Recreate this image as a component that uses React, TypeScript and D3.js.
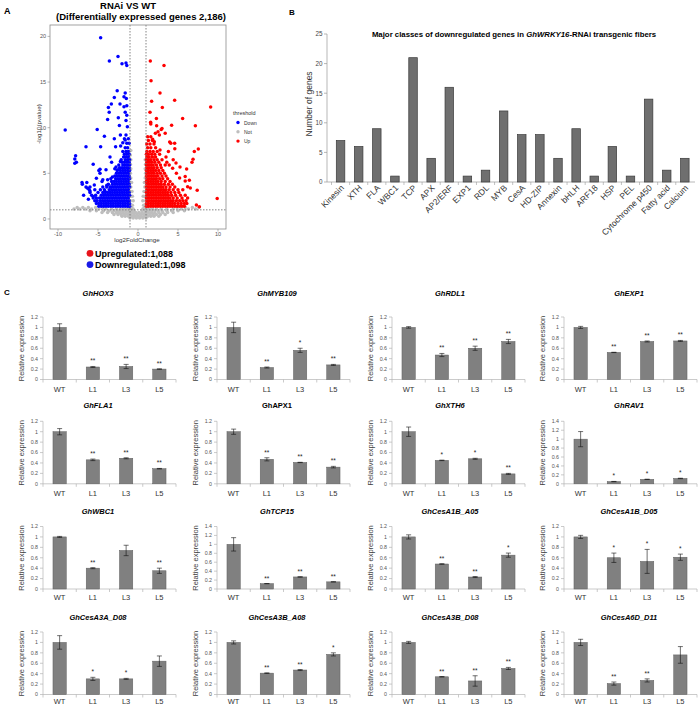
import React from 'react';
import * as d3 from 'd3';

const FONT = 'Liberation Sans, Arial, Helvetica, sans-serif';

// ---------------- Panel A: volcano data (log2FoldChange, -log10 pvalue) ----------------
const downOutliers: [number, number][] = [
  [-4.67, 19.85], [-3.58, 17.3], [-2.5, 17.8], [-2.0, 17.0], [-1.5, 17.1], [-1.4, 16.8], [-2.6, 14.05],
  [-2.96, 13.3], [-1.6, 13.8], [-1.75, 13.4], [-1.46, 13.2], [-2.25, 12.6], [-3.33, 12.6], [-3.7, 12.2],
  [-1.75, 12.3], [-1.4, 12.4], [-3.6, 11.7], [-3.8, 10.9], [-2.46, 11.1], [-2.33, 10.25], [-1.6, 11.7],
  [-1.4, 11.35], [-9.1, 9.75], [-5.1, 9.8], [-4.2, 9.05], [-2.2, 9.2], [-1.5, 9.2], [-1.33, 10.1],
  [-1.5, 10.8], [-2.96, 8.8], [-6.5, 7.9], [-4.67, 7.9], [-2.8, 7.9], [-2.17, 8.0], [-1.9, 8.35],
  [-1.6, 8.65], [-7.8, 6.93], [-7.9, 6.57], [-7.9, 6.1], [-7.7, 6.2], [-5.6, 6.0], [-3.5, 6.8],
  [-3.3, 6.2], [-4.0, 5.4], [-4.9, 5.3], [-4.75, 5.44], [-2.75, 5.7], [-2.5, 5.4], [-2.2, 6.3],
  [-7.0, 4.0], [-6.96, 3.8], [-6.4, 4.0], [-6.5, 3.5], [-6.3, 3.36], [-6.0, 3.5], [-6.0, 3.07],
  [-5.46, 3.72], [-5.4, 3.2], [-4.5, 4.1], [-4.4, 4.3], [-3.8, 4.3], [-3.9, 3.7], [-4.75, 5.0],
  [-5.2, 4.45], [-4.1, 3.0], [-5.6, 2.45], [-6.2, 2.15], [-6.8, 2.6], [-3.2, 4.6], [-2.9, 5.5], [-3.5, 3.5],
];
const upOutliers: [number, number][] = [
  [1.54, 17.3], [3.25, 16.8], [1.63, 15.15], [2.75, 13.8], [1.7, 12.9], [4.58, 13.0], [3.04, 12.2],
  [9.08, 12.27], [1.5, 11.7], [5.58, 11.0], [2.3, 11.0], [1.58, 10.6], [1.6, 10.4], [4.2, 10.26],
  [7.17, 10.2], [2.33, 10.2], [2.9, 9.8], [2.5, 9.56], [2.67, 9.2], [2.17, 9.38], [1.83, 8.73],
  [2.04, 8.47], [3.96, 8.43], [4.58, 8.29], [7.54, 7.67], [7.04, 7.38], [6.88, 6.53], [6.75, 6.2],
  [4.75, 6.13], [6.08, 5.48], [4.33, 5.55], [5.2, 4.49], [5.9, 4.64], [6.42, 4.24], [5.9, 4.16],
  [6.2, 3.54], [6.54, 3.4], [7.4, 3.14], [9.9, 2.23], [7.3, 1.53], [7.67, 1.35], [3.0, 9.9], [3.4, 9.4],
  [4.1, 8.3], [4.6, 7.7], [3.8, 7.4], [2.75, 7.55], [3.5, 6.8], [4.4, 6.5], [5.25, 5.7], [4.8, 5.0],
  [3.9, 5.9], [3.6, 6.2],
];
// dense clouds: [-log10 p, list of log2FC]
const downDenseRows: [number, number[]][] = [
  [1.4, [-4.9, -4.6, -4.3, -4.0, -3.7, -3.4, -3.1, -2.8, -2.5, -2.2, -1.9, -1.6, -1.3, -1.05]],
  [1.7, [-5.2, -4.9, -4.6, -4.3, -4.0, -3.7, -3.4, -3.1, -2.8, -2.5, -2.2, -1.9, -1.6, -1.3, -1.05]],
  [2.0, [-5.4, -5.1, -4.7, -4.4, -4.1, -3.8, -3.5, -3.2, -2.9, -2.6, -2.3, -2.0, -1.7, -1.4, -1.1]],
  [2.3, [-5.6, -5.2, -4.8, -4.5, -4.2, -3.9, -3.6, -3.3, -3.0, -2.7, -2.4, -2.1, -1.8, -1.5, -1.2]],
  [2.6, [-5.8, -5.3, -4.6, -4.3, -4.0, -3.7, -3.4, -3.1, -2.8, -2.5, -2.2, -1.9, -1.6, -1.3, -1.05]],
  [2.9, [-6.0, -5.0, -4.4, -4.1, -3.8, -3.5, -3.2, -2.9, -2.6, -2.3, -2.0, -1.7, -1.4, -1.1]],
  [3.2, [-6.1, -4.7, -4.2, -3.6, -3.3, -3.0, -2.7, -2.4, -2.1, -1.8, -1.5, -1.2]],
  [3.5, [-4.4, -3.9, -3.4, -3.1, -2.8, -2.5, -2.2, -1.9, -1.6, -1.3, -1.05]],
  [3.8, [-3.7, -3.2, -2.9, -2.6, -2.3, -2.0, -1.7, -1.4, -1.1]],
  [4.1, [-3.3, -3.0, -2.7, -2.4, -2.1, -1.8, -1.5, -1.2]],
  [4.4, [-3.4, -2.8, -2.5, -2.2, -1.9, -1.6, -1.3, -1.05]],
  [4.7, [-2.9, -2.6, -2.3, -2.0, -1.7, -1.4, -1.1]],
  [5.0, [-2.7, -2.4, -2.1, -1.8, -1.5, -1.2]],
  [5.3, [-2.6, -2.2, -1.9, -1.6, -1.3, -1.05]],
  [5.6, [-2.3, -2.0, -1.7, -1.4, -1.1]],
  [5.9, [-2.4, -1.9, -1.6, -1.3, -1.05]],
  [6.2, [-2.0, -1.7, -1.4, -1.1]],
  [6.5, [-2.1, -1.6, -1.3, -1.05]],
  [6.8, [-1.8, -1.5, -1.2]],
  [7.1, [-1.7, -1.4, -1.1]],
  [7.4, [-1.9, -1.5, -1.2]],
  [7.8, [-1.6, -1.3]],
  [8.3, [-1.4, -1.1]],
  [8.8, [-1.7, -1.2]],
];
const upDenseRows: [number, number[]][] = [
  [1.4, [1.05, 1.3, 1.6, 1.9, 2.2, 2.5, 2.8, 3.1, 3.4, 3.7, 4.0, 4.3, 4.6, 4.9, 5.2, 5.5, 5.8]],
  [1.7, [1.05, 1.3, 1.6, 1.9, 2.2, 2.5, 2.8, 3.1, 3.4, 3.7, 4.0, 4.3, 4.6, 5.0, 5.4, 5.8, 6.1]],
  [2.0, [1.1, 1.4, 1.7, 2.0, 2.3, 2.6, 2.9, 3.2, 3.5, 3.8, 4.1, 4.4, 4.8, 5.2, 5.6, 6.0]],
  [2.3, [1.05, 1.3, 1.6, 1.9, 2.2, 2.5, 2.8, 3.1, 3.4, 3.7, 4.0, 4.4, 4.9, 5.5, 6.2]],
  [2.6, [1.1, 1.4, 1.7, 2.0, 2.3, 2.6, 2.9, 3.2, 3.5, 3.8, 4.2, 4.7, 5.3, 5.9]],
  [2.9, [1.05, 1.3, 1.6, 1.9, 2.2, 2.5, 2.8, 3.1, 3.4, 3.7, 4.1, 4.6, 5.1]],
  [3.2, [1.1, 1.4, 1.7, 2.0, 2.3, 2.6, 2.9, 3.2, 3.5, 3.9, 4.4, 5.0, 5.6]],
  [3.5, [1.05, 1.3, 1.6, 1.9, 2.2, 2.5, 2.8, 3.1, 3.5, 4.0, 4.6]],
  [3.8, [1.1, 1.4, 1.7, 2.0, 2.3, 2.6, 2.9, 3.3, 3.8, 4.3]],
  [4.1, [1.05, 1.3, 1.6, 1.9, 2.2, 2.5, 2.9, 3.4, 4.0]],
  [4.4, [1.1, 1.4, 1.7, 2.0, 2.3, 2.7, 3.1, 3.7]],
  [4.7, [1.05, 1.3, 1.6, 1.9, 2.2, 2.5, 3.0, 3.5]],
  [5.0, [1.1, 1.4, 1.7, 2.0, 2.4, 2.8, 3.3]],
  [5.3, [1.05, 1.3, 1.6, 1.9, 2.2, 2.6, 3.1]],
  [5.6, [1.1, 1.4, 1.7, 2.0, 2.4, 2.9]],
  [5.9, [1.05, 1.3, 1.6, 1.9, 2.3, 2.8, 3.4]],
  [6.2, [1.1, 1.4, 1.7, 2.1, 2.6]],
  [6.5, [1.05, 1.3, 1.6, 2.0, 2.4, 3.0]],
  [6.8, [1.1, 1.4, 1.8, 2.2]],
  [7.1, [1.05, 1.3, 1.7, 2.1, 2.7]],
  [7.4, [1.1, 1.5, 1.9, 2.4]],
  [7.8, [1.2, 1.6, 2.2]],
  [8.2, [1.1, 1.5, 2.0]],
  [8.6, [1.3, 1.8]],
  [9.0, [1.2, 1.6]],
];
const notDenseRows: [number, number[]][] = [
  [0.1, [-1.0, -0.6, -0.2, 0.2, 0.6, 1.0]],
  [0.3, [-2.0, -1.6, -1.2, -0.8, -0.4, 0, 0.4, 0.8, 1.2, 1.6, 2.0, 2.6]],
  [0.5, [-3.0, -2.5, -2.1, -1.7, -1.3, -0.9, -0.5, -0.1, 0.3, 0.7, 1.1, 1.5, 1.9, 2.3, 2.8, 3.4]],
  [0.7, [-4.5, -3.8, -3.2, -2.7, -2.3, -1.9, -1.5, -1.1, -0.7, -0.3, 0.1, 0.5, 0.9, 1.3, 1.7, 2.1, 2.6, 3.1, 3.7, 4.4]],
  [0.9, [-6.0, -5.2, -4.3, -3.6, -3.0, -2.5, -2.1, -1.7, -1.3, -0.9, -0.5, 0.5, 0.9, 1.3, 1.7, 2.1, 2.5, 3.0, 3.6, 4.2, 5.0, 5.8]],
  [1.1, [-8.0, -7.3, -6.6, -5.8, -4.9, -4.0, -3.3, -2.7, -2.2, -1.8, -1.4, -0.9, -0.6, 0.6, 0.9, 1.4, 1.8, 2.3, 2.9, 3.6, 4.4, 5.4, 6.3, 7.2]],
  [1.25, [-7.6, -6.9, -6.2, -5.3, -4.4, -1.2, -0.8, 0.8, 1.2, 4.9, 5.9, 6.8, 7.6]],
  [1.5, [-0.95, -0.7, 0.7, 0.95]],
  [2.0, [-0.95, -0.6, 0.6, 0.95]],
  [2.5, [-0.9, -0.7, 0.65, 0.9]],
  [3.0, [-0.95, -0.75, 0.75, 0.95]],
  [3.5, [-0.9, 0.85]],
  [4.0, [-0.95, -0.8, 0.8, 0.95]],
  [4.5, [-0.9, 0.9]],
  [5.0, [-0.95, 0.95]],
  [5.5, [-0.9, 0.9]],
  [6.0, [-0.95, 0.95]],
  [6.5, [-0.9, 0.9]],
  [7.0, [-0.95]],
  [7.5, [-0.9]],
];
const volcanoXTicks = [-10, -5, 0, 5, 10];
const volcanoYTicks = [0, 5, 10, 15, 20];
const fcCut = 1;
const pCut = 1;
const legendLevels = ['Down', 'Not', 'Up'];
const legendColors = ['#0000FF', '#BEBEBE', '#FF0000'];
const upCount = '1,088';
const downCount = '1,098';

// ---------------- Panel B ----------------
const classNames = ['Kinesin', 'XTH', 'FLA', 'WBC1', 'TCP', 'APX', 'AP2/ERF', 'EXP1', 'RDL', 'MYB', 'CesA', 'HD-ZIP',
  'Annexin', 'bHLH', 'ARF18', 'HSP', 'PEL', 'Cytochrome p450', 'Fatty acid', 'Calcium'];
const classCounts = [7, 6, 9, 1, 21, 4, 16, 1, 2, 12, 8, 8, 4, 9, 1, 6, 1, 14, 2, 4];
const classTicks = [0, 5, 10, 15, 20, 25];

// ---------------- Panel C ----------------
const lineNames = ['WT', 'L1', 'L3', 'L5'];
const geneNames = ['GhHOX3', 'GhMYB109', 'GhRDL1', 'GhEXP1', 'GhFLA1', 'GhAPX1', 'GhXTH6', 'GhRAV1',
  'GhWBC1', 'GhTCP15', 'GhCesA1B_A05', 'GhCesA1B_D05', 'GhCesA3A_D08', 'GhCesA3B_A08', 'GhCesA3B_D08', 'GhCesA6D_D11'];
const geneItalic = [true, true, true, true, true, false, true, true, true, true, true, true, true, true, true, true];
const geneMax = [1.2, 1.2, 1.2, 1.2, 1.2, 1.2, 1.2, 1.4, 1.2, 1.4, 1.2, 1.2, 1.2, 1.2, 1.2, 1.2];
const geneMeans = [
  [1.0, 0.24, 0.25, 0.2], [1.0, 0.23, 0.56, 0.28], [1.0, 0.47, 0.6, 0.73], [1.0, 0.52, 0.73, 0.74],
  [1.0, 0.46, 0.49, 0.29], [1.0, 0.47, 0.41, 0.32], [1.0, 0.45, 0.48, 0.19], [1.0, 0.05, 0.1, 0.12],
  [1.0, 0.4, 0.74, 0.35], [1.0, 0.12, 0.27, 0.16], [1.0, 0.48, 0.23, 0.65], [1.0, 0.6, 0.53, 0.61],
  [1.0, 0.3, 0.3, 0.64], [1.0, 0.41, 0.47, 0.77], [1.0, 0.34, 0.26, 0.5], [1.0, 0.21, 0.27, 0.76],
];
const geneErrors = [
  [0.07, 0.01, 0.04, 0.005], [0.1, 0.01, 0.04, 0.01], [0.015, 0.03, 0.04, 0.04], [0.02, 0.003, 0.01, 0.01],
  [0.06, 0.015, 0.01, 0.005], [0.05, 0.03, 0.003, 0.015], [0.09, 0.005, 0.01, 0.01], [0.17, 0.003, 0.003, 0.005],
  [0.01, 0.01, 0.1, 0.05], [0.15, 0.003, 0.005, 0.003], [0.04, 0.005, 0.01, 0.04], [0.03, 0.09, 0.23, 0.06],
  [0.13, 0.03, 0.01, 0.1], [0.03, 0.005, 0.01, 0.03], [0.02, 0.005, 0.1, 0.02], [0.06, 0.03, 0.03, 0.16],
];
const geneStars = [
  ['', '**', '**', '**'], ['', '**', '*', '**'], ['', '**', '**', '**'], ['', '**', '**', '**'],
  ['', '**', '**', '**'], ['', '**', '**', '**'], ['', '*', '*', '**'], ['', '*', '*', '*'],
  ['', '**', '', '**'], ['', '**', '**', '**'], ['', '**', '**', '*'], ['', '*', '*', '*'],
  ['', '*', '*', ''], ['', '**', '**', '*'], ['', '**', '**', '**'], ['', '**', '**', ''],
];

// layout for panel C grid
const colLeft = [43, 217, 392, 564];
const colTitleX = [98, 277, 450, 629];
const rowZero = [379.5, 483.8, 589, 694.5];
const rowTitleY = [293, 405.7, 511, 617];
const rowLabelY = [389, 493.3, 597.7, 701];

const flatten = (rows: [number, number[]][]) => rows.flatMap(([y, xs]) => xs.map((x) => [x, y] as [number, number]));

function Volcano() {
  const x = d3.scaleLinear().domain([-11, 11]).range([50, 226]);
  const y = d3.scaleLinear().domain([-1.1, 21.25]).range([229, 25]);
  const notPts = flatten(notDenseRows);
  const downPts = [...flatten(downDenseRows), ...downOutliers];
  const upPts = [...flatten(upDenseRows), ...upOutliers];
  const r = 1.75;
  return (
    <g fontFamily={FONT}>
      <text x={4} y={14} fontSize={9} fontWeight="bold">A</text>
      <text x={128} y={9} fontSize={9.5} fontWeight="bold" textAnchor="middle">RNAi VS WT</text>
      <text x={141} y={20} fontSize={9.5} fontWeight="bold" textAnchor="middle">(Differentially expressed genes 2,186)</text>
      <rect x={50} y={25} width={176} height={204} fill="white" />
      {notPts.map((p, i) => <circle key={'n' + i} cx={x(p[0])} cy={y(p[1])} r={r} fill={legendColors[1]} />)}
      {downPts.map((p, i) => <circle key={'d' + i} cx={x(p[0])} cy={y(p[1])} r={r} fill={legendColors[0]} />)}
      {upPts.map((p, i) => <circle key={'u' + i} cx={x(p[0])} cy={y(p[1])} r={r} fill={legendColors[2]} />)}
      {[-fcCut, fcCut].map((v) => (
        <line key={v} x1={x(v)} x2={x(v)} y1={25} y2={229} stroke="#777" strokeWidth={0.9} strokeDasharray="1.5,1.5" />
      ))}
      <line x1={50} x2={226} y1={y(pCut)} y2={y(pCut)} stroke="#777" strokeWidth={0.9} strokeDasharray="1.5,1.5" />
      <rect x={50} y={25} width={176} height={204} fill="none" stroke="#8c8c8c" strokeWidth={0.8} />
      {volcanoXTicks.map((t) => (
        <g key={t}>
          <line x1={x(t)} x2={x(t)} y1={229} y2={231.5} stroke="#8c8c8c" strokeWidth={0.6} />
          <text x={x(t)} y={236} fontSize={5.5} fill="#555" textAnchor="middle">{t}</text>
        </g>
      ))}
      {volcanoYTicks.map((t) => (
        <g key={t}>
          <line x1={47.5} x2={50} y1={y(t)} y2={y(t)} stroke="#8c8c8c" strokeWidth={0.6} />
          <text x={46} y={y(t) + 2} fontSize={5.5} fill="#555" textAnchor="end">{t}</text>
        </g>
      ))}
      <text x={137} y={241.5} fontSize={6.2} fill="#333" textAnchor="middle">log2FoldChange</text>
      <text transform="translate(41,124) rotate(-90)" fontSize={6.2} fill="#333" textAnchor="middle">-log10(pvalue)</text>
      <text x={233} y={115} fontSize={5.5} fill="#333">threshold</text>
      {legendLevels.map((l, i) => (
        <g key={l}>
          <circle cx={238} cy={122.5 + i * 9.3} r={1.7} fill={legendColors[i]} />
          <text x={244} y={124.5 + i * 9.3} fontSize={5} fill="#333">{l}</text>
        </g>
      ))}
      <circle cx={90} cy={253.3} r={3.4} fill="#E8141B" />
      <text x={95} y={256.7} fontSize={9} fontWeight="bold">{'Upregulated:' + upCount}</text>
      <circle cx={90} cy={264.6} r={3.4} fill="#1A1AE6" />
      <text x={95} y={268} fontSize={9} fontWeight="bold">{'Downregulated:' + downCount}</text>
    </g>
  );
}

function ClassBars() {
  const x = d3.scaleBand().domain(classNames).range([331.5, 693.9]).paddingInner(0.53).paddingOuter(0.265);
  const y = d3.scaleLinear().domain([0, 25]).range([182, 34]);
  const step = x.step();
  return (
    <g fontFamily={FONT}>
      <text x={289} y={15} fontSize={8} fontWeight="bold">B</text>
      <text x={514} y={36.5} fontSize={7.8} fontWeight="bold" textAnchor="middle">
        Major classes of downregulated genes in <tspan fontStyle="italic">GhWRKY16</tspan>-RNAi transgenic fibers
      </text>
      <line x1={327} x2={327} y1={y(25)} y2={y(0)} stroke="#999" strokeWidth={0.7} />
      <line x1={327} x2={695} y1={y(0)} y2={y(0)} stroke="#999" strokeWidth={0.7} />
      {classTicks.map((t) => (
        <g key={t}>
          <line x1={324} x2={327} y1={y(t)} y2={y(t)} stroke="#999" strokeWidth={0.7} />
          <text x={322.5} y={y(t) + 2.3} fontSize={6.3} fill="#444" textAnchor="end">{t}</text>
        </g>
      ))}
      {classNames.map((c) => (
        <line key={'t' + c} x1={(x(c) as number) + x.bandwidth() / 2 - step / 2} x2={(x(c) as number) + x.bandwidth() / 2 - step / 2}
          y1={y(0)} y2={y(0) + 3} stroke="#999" strokeWidth={0.6} />
      ))}
      {classNames.map((c, i) => (
        <rect key={c} x={x(c)} y={y(classCounts[i])} width={x.bandwidth()} height={y(0) - y(classCounts[i])}
          fill="#6f6f6f" stroke="#3a3a3a" strokeWidth={0.7} />
      ))}
      {classNames.map((c) => {
        const cx = (x(c) as number) + x.bandwidth() / 2 + 4;
        return (
          <text key={'l' + c} transform={`translate(${cx},${188.5}) rotate(-45)`} fontSize={8.5} fill="#333" textAnchor="end">{c}</text>
        );
      })}
      <text transform="translate(312,104) rotate(-90)" fontSize={8.5} fill="#333" textAnchor="middle">Number of genes</text>
    </g>
  );
}

function Expr({ gi }: { gi: number }) {
  const col = gi % 4;
  const row = Math.floor(gi / 4);
  const left = colLeft[col];
  const zero = rowZero[row];
  const max = geneMax[gi];
  const x = d3.scalePoint().domain(lineNames).range([left, left + 133]).padding(0.5);
  const y = d3.scaleLinear().domain([0, max]).range([zero, zero - 62.5]);
  const step = x.step();
  const bw = step * 0.4;
  const ticks = d3.range(0, max + 0.001, 0.2);
  return (
    <g fontFamily={FONT}>
      <text x={colTitleX[col]} y={rowTitleY[row] + 2.5} fontSize={7.5} fontWeight="bold"
        fontStyle={geneItalic[gi] ? 'italic' : 'normal'} textAnchor="middle">{geneNames[gi]}</text>
      <line x1={left} x2={left} y1={y(max)} y2={zero} stroke="#b5b5b5" strokeWidth={0.7} />
      {ticks.map((t) => (
        <g key={t}>
          <line x1={left - 3} x2={left} y1={y(t)} y2={y(t)} stroke="#b5b5b5" strokeWidth={0.7} />
          <text x={left - 5} y={y(t) + 1.9} fontSize={5.3} fill="#555" textAnchor="end">{d3.format('~g')(+t.toFixed(1))}</text>
        </g>
      ))}
      <line x1={left} x2={left + 133} y1={zero} y2={zero} stroke="#b5b5b5" strokeWidth={0.7} />
      {[0, 1, 2, 3, 4].map((k) => (
        <line key={k} x1={left + k * step} x2={left + k * step} y1={zero} y2={zero + 3} stroke="#b5b5b5" strokeWidth={0.7} />
      ))}
      {lineNames.map((l, i) => {
        const cx = x(l) as number;
        const m = geneMeans[gi][i];
        const e = geneErrors[gi][i];
        return (
          <g key={l}>
            <rect x={cx - bw / 2} y={y(m)} width={bw} height={zero - y(m)} fill="#808080" stroke="#5e5e5e" strokeWidth={0.5} />
            <line x1={cx} x2={cx} y1={y(m + e)} y2={y(Math.max(0, m - e))} stroke="#111" strokeWidth={0.6} />
            <line x1={cx - 2.5} x2={cx + 2.5} y1={y(m + e)} y2={y(m + e)} stroke="#111" strokeWidth={0.6} />
            <line x1={cx - 2.5} x2={cx + 2.5} y1={y(Math.max(0, m - e))} y2={y(Math.max(0, m - e))} stroke="#111" strokeWidth={0.6} />
            {geneStars[gi][i] && (
              <text x={cx} y={y(m + e) - 3} fontSize={6.5} textAnchor="middle" fill="#222">{geneStars[gi][i]}</text>
            )}
            <text x={cx} y={rowLabelY[row] + 2.6} fontSize={7.5} textAnchor="middle" fill="#333">{l}</text>
          </g>
        );
      })}
      <text transform={`translate(${left - 19},${zero - 31}) rotate(-90)`} fontSize={7.5} fill="#404040" textAnchor="middle">Relative expression</text>
    </g>
  );
}

export default function App() {
  return (
    <svg width={700} height={707} viewBox="0 0 700 707" style={{ position: 'absolute', left: 0, top: 0, background: 'white' }}>
      <rect x={0} y={0} width={700} height={707} fill="white" />
      <Volcano />
      <ClassBars />
      <text x={4} y={295} fontSize={8} fontWeight="bold" fontFamily={FONT}>C</text>
      {geneNames.map((g, i) => <Expr key={g} gi={i} />)}
    </svg>
  );
}
